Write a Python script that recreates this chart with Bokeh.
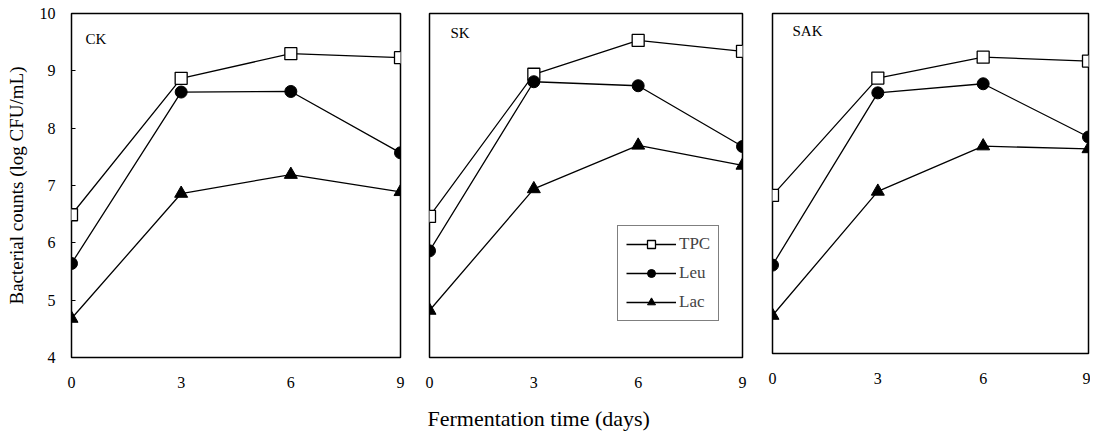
from bokeh.plotting import figure
from bokeh.layouts import row
from bokeh.models import Label, Range1d, FixedTicker, Legend, LegendItem, Title
from bokeh.embed import file_html
from bokeh.resources import INLINE

days = [0, 3, 6, 9]
panels = ["CK", "SK", "SAK"]
series = ["TPC", "Leu", "Lac"]

ck_tpc = [6.49, 8.87, 9.30, 9.23]
ck_leu = [5.64, 8.63, 8.64, 7.57]
ck_lac = [4.68, 6.86, 7.19, 6.89]

sk_tpc = [6.46, 8.94, 9.53, 9.34]
sk_leu = [5.86, 8.81, 8.74, 7.68]
sk_lac = [4.82, 6.94, 7.70, 7.35]

sak_tpc = [6.79, 8.86, 9.23, 9.16]
sak_leu = [5.56, 8.60, 8.76, 7.82]
sak_lac = [4.67, 6.86, 7.66, 7.61]

y_ticks = [4, 5, 6, 7, 8, 9, 10]
x_ticks = [0, 3, 6, 9]
x_title = "Fermentation time (days)"
y_title = "Bacterial counts (log CFU/mL)"

FONT = "Liberation Serif"

data = {
    "CK": [ck_tpc, ck_leu, ck_lac],
    "SK": [sk_tpc, sk_leu, sk_lac],
    "SAK": [sak_tpc, sak_leu, sak_lac],
}

# layout geometry per panel: (frame_width, frame_height, left, right, top, bottom)
geom = {
    "CK": (329, 344, 71, 13, 10, 74),
    "SK": (313, 344, 16, 15, 10, 74),
    "SAK": (316, 340, 15, 2, 13, 75),
}
label_pos = {"CK": (14, 25), "SK": (21, 19), "SAK": (20, 17)}

figs = []
for name in panels:
    fw, fh, bl, br, bt, bb = geom[name]
    p = figure(frame_width=fw, frame_height=fh, min_border_left=bl, min_border_right=br,
               min_border_top=bt, min_border_bottom=bb, output_backend="svg",
               toolbar_location=None, x_range=Range1d(0, 9), y_range=Range1d(4, 10))
    p.grid.visible = False
    p.outline_line_color = "black"
    p.outline_line_width = 1.5
    p.outline_line_alpha = 1
    p.background_fill_color = "white"
    p.border_fill_color = "white"

    xa = p.xaxis[0]
    xa.ticker = FixedTicker(ticks=x_ticks)
    xa.axis_line_color = None
    xa.major_tick_line_color = None
    xa.minor_tick_line_color = None
    xa.major_label_standoff = 13
    xa.major_label_text_font = FONT
    xa.major_label_text_font_size = "16px"
    xa.major_label_text_color = "black"

    ya = p.yaxis[0]
    if name == "CK":
        ya.ticker = FixedTicker(ticks=y_ticks)
        ya.axis_line_color = None
        ya.major_tick_in = 4
        ya.major_tick_out = 0
        ya.major_tick_line_color = "black"
        ya.major_tick_line_width = 1.2
        ya.minor_tick_line_color = None
        ya.major_label_standoff = 16
        ya.major_label_text_font = FONT
        ya.major_label_text_font_size = "16px"
        ya.major_label_text_color = "black"
        ya.axis_label = y_title
        ya.axis_label_text_font = FONT
        ya.axis_label_text_font_size = "19px"
        ya.axis_label_text_font_style = "normal"
        ya.axis_label_text_color = "black"
        ya.axis_label_standoff = 10
    else:
        ya.visible = False

    tpc, leu, lac = data[name]
    r1 = p.line(days, tpc, line_color="black", line_width=1.3)
    r2 = p.scatter(days, tpc, marker="square", size=12, fill_color="white",
                   line_color="black", line_width=1.3)
    r3 = p.line(days, leu, line_color="black", line_width=1.3)
    r4 = p.scatter(days, leu, marker="circle", size=12, fill_color="black",
                   line_color="black")
    r5 = p.line(days, lac, line_color="black", line_width=1.3)
    r6 = p.scatter(days, lac, marker="triangle", size=13, fill_color="black",
                   line_color="black")

    lx, ly = label_pos[name]
    p.add_layout(Label(x=lx, y=fh - ly, x_units="screen", y_units="screen", text=name,
                       text_font=FONT, text_font_size="15px", text_baseline="middle",
                       text_color="black"))

    if name == "SK":
        legend = Legend(items=[
            LegendItem(label=series[0], renderers=[r1, r2]),
            LegendItem(label=series[1], renderers=[r3, r4]),
            LegendItem(label=series[2], renderers=[r5, r6]),
        ], location=(188, 36))
        legend.border_line_color = "black"
        legend.border_line_width = 1.5
        legend.background_fill_alpha = 1
        legend.label_text_font = FONT
        legend.label_text_font_size = "17px"
        legend.glyph_width = 50
        legend.glyph_height = 20
        legend.label_height = 20
        legend.spacing = 9
        legend.padding = 8
        legend.margin = 0
        legend.label_standoff = 3
        p.add_layout(legend, "center")
        t = Title(text=x_title, align="left", offset=-2, text_font=FONT,
                  text_font_size="22px", text_font_style="normal", text_color="black",
                  standoff=27)
        p.add_layout(t, "below")
    figs.append(p)

layout = row(*figs, spacing=0)
open("out.html", "w").write(file_html(layout, INLINE))
